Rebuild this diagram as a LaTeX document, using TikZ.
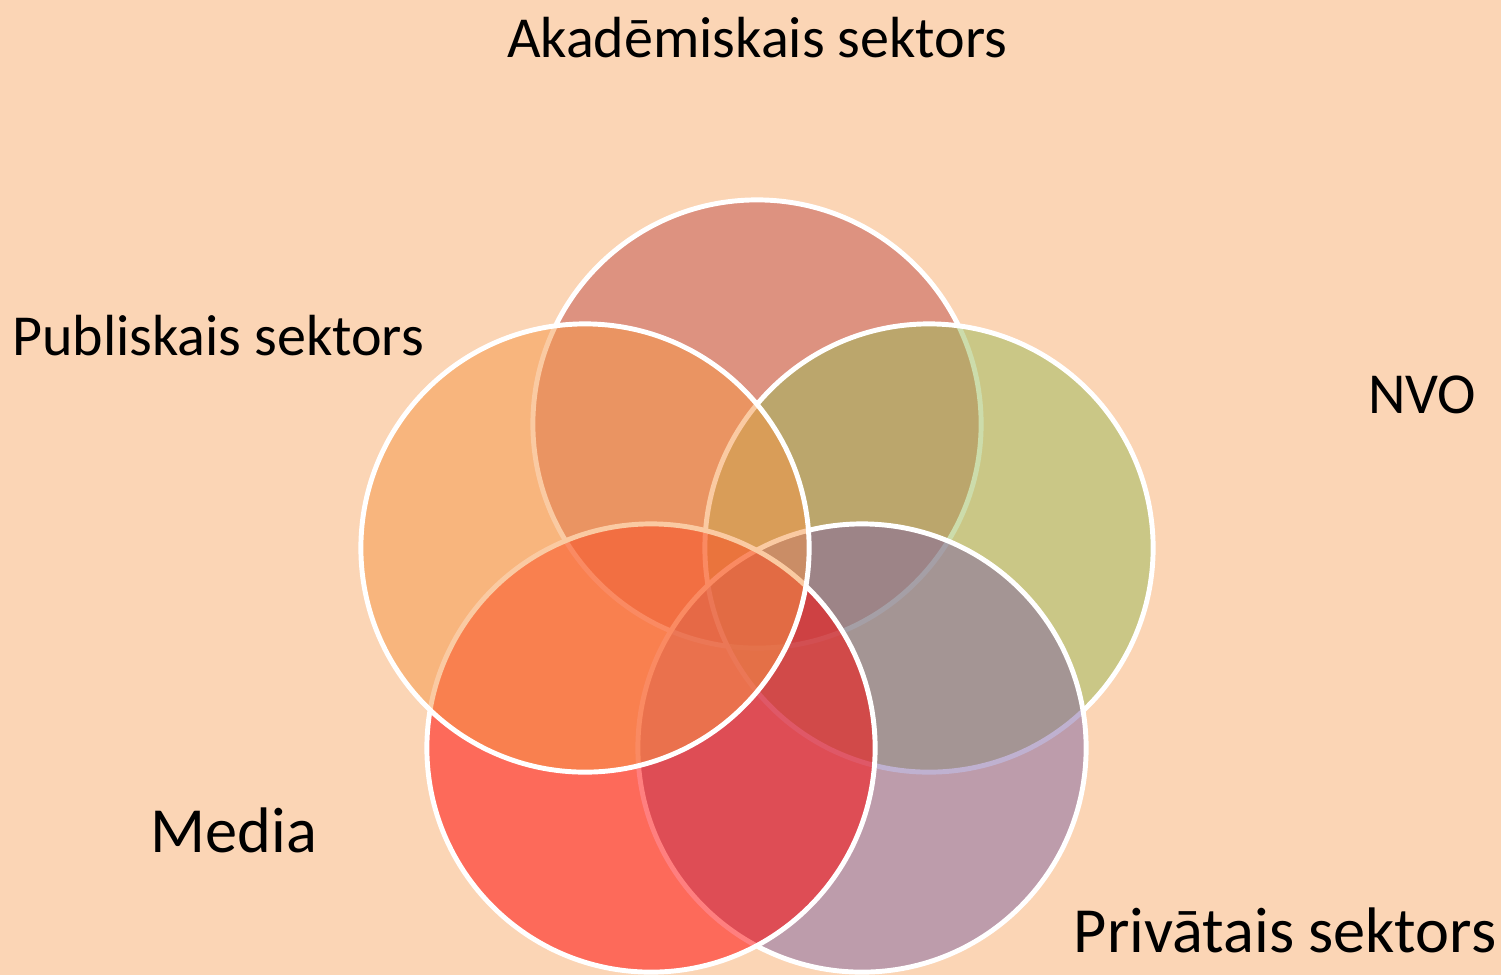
\documentclass[tikz,border=0pt]{standalone}
\usepackage{fontspec}
\setmainfont{Carlito}
\usetikzlibrary{positioning}

\definecolor{bgpeach}{HTML}{FBD5B5}
\definecolor{akared}{HTML}{C0504D}
\definecolor{nvogreen}{HTML}{9BBB59}
\definecolor{privpurple}{HTML}{8064A2}
\definecolor{mediared}{HTML}{FF0000}
\definecolor{publorange}{HTML}{F79646}

\begin{document}
\begin{tikzpicture}[x=0.01cm,y=-0.01cm,
	sector/.style={circle,minimum size=4.48cm,inner sep=0pt,draw=white,line width=1.4pt,fill opacity=0.5},
	caption/.style={font=\fontsize{16.5}{20}\selectfont,inner sep=0pt},
	bigcaption/.style={caption,font=\fontsize{18.3}{22}\selectfont}
	]
	\fill[bgpeach] (0,0) rectangle (1501,975);
	\useasboundingbox (0,0) rectangle (1501,975);
	
	\node[sector,fill=akared] (aka) at (757,424) {};
	\node[sector,fill=nvogreen] (nvo) at (929,548) {};
	\node[sector,fill=privpurple] (priv) at (862,748) {};
	\node[sector,fill=mediared] (media) at (651,748) {};
	\node[sector,fill=publorange] (publ) at (585,548) {};
	
	\node[caption] (akalabel) at (757,38) {Akadēmiskais sektors};
	\node[caption] (publlabel) at (218,336) {Publiskais sektors};
	\node[caption] (nvolabel) at (1422,395) {NVO};
	\node[bigcaption] (medialabel) at (234,830) {Media};
	\node[bigcaption] (privlabel) at (1285,930) {Privātais sektors};
	
\end{tikzpicture}
\end{document}
